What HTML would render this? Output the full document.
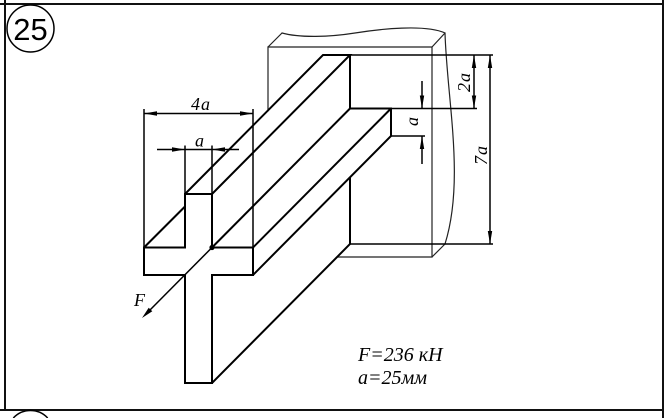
<!DOCTYPE html>
<html>
<head>
<meta charset="utf-8">
<style>
  html, body { margin:0; padding:0; background:#fff; width:671px; height:418px; overflow:hidden; }
  svg { display:block; }
  .t { font-family:"Liberation Serif", "DejaVu Serif", serif; font-style:italic; fill:#000; }
</style>
</head>
<body>
<svg width="671" height="418" viewBox="0 0 671 418" xmlns="http://www.w3.org/2000/svg">
  <rect x="0" y="0" width="671" height="418" fill="#fff"/>

  <!-- frame -->
  <g stroke="#111" stroke-width="2" fill="none">
    <line x1="0" y1="4" x2="664" y2="4"/>
    <line x1="5" y1="0" x2="5" y2="410"/>
    <line x1="663" y1="0" x2="663" y2="418"/>
    <line x1="0" y1="410" x2="664" y2="410"/>
  </g>

  <!-- problem number -->
  <circle cx="30.5" cy="28.5" r="23.5" fill="none" stroke="#000" stroke-width="1.5"/>
  <text x="30.5" y="40" font-family="Liberation Sans, Arial, sans-serif" font-size="31" text-anchor="middle" fill="#000">25</text>
  <path d="M13.3,418 A23.5,23.5 0 0 1 47.7,418" fill="none" stroke="#000" stroke-width="1.5"/>

  <!-- wall -->
  <g stroke="#222" stroke-width="1.2" fill="none" stroke-linecap="round">
    <path d="M268,111 V47 H432 V257 H338"/>
    <line x1="268" y1="47" x2="282" y2="33"/>
    <line x1="432" y1="47" x2="445" y2="33"/>
    <line x1="432" y1="257" x2="445" y2="244"/>
    <path d="M282,33 C300,38 330,37 355,33 S425,24 445,33"/>
    <path d="M445,33 C447,100 465,180 445,244"/>
  </g>

  <!-- beam -->
  <g stroke="#000" stroke-width="2" fill="none" stroke-linejoin="miter">
    <path d="M185,194 H212 V247.5 H253 V275 H212 V383 H185 V275 H144 V247.5 H185 Z"/>
    <path d="M185,194 L323,55 H350 L212,194"/>
    <path d="M350,55 V108.5 H391 V136 L253,275"/>
    <line x1="212" y1="247.5" x2="350" y2="108.5"/>
    <line x1="253" y1="247.5" x2="391" y2="108.5"/>
    <path d="M350,177.5 V244 L212,383"/>
    <line x1="144" y1="247.5" x2="185" y2="206.5"/>
  </g>

  <!-- force F -->
  <g stroke="#000" stroke-width="1.5" fill="none">
    <line x1="212" y1="247.5" x2="148" y2="312"/>
  </g>
  <polygon points="142,318 152.3,311.3 148.7,307.7" fill="#000"/>
  <circle cx="212" cy="247.5" r="2.6" fill="#000"/>
  <text class="t" x="134" y="306" font-size="18">F</text>

  <!-- left dimensions -->
  <g stroke="#000" stroke-width="1.5" fill="none">
    <line x1="144" y1="109" x2="144" y2="247.5"/>
    <line x1="253" y1="109" x2="253" y2="247.5"/>
    <line x1="144" y1="113.5" x2="253" y2="113.5"/>
    <line x1="185" y1="145.5" x2="185" y2="194"/>
    <line x1="212" y1="145.5" x2="212" y2="194"/>
    <line x1="157" y1="149.5" x2="239" y2="149.5"/>
  </g>
  <g fill="#000">
    <polygon points="144,113.5 157,111.3 157,115.7"/>
    <polygon points="253,113.5 240,111.3 240,115.7"/>
    <polygon points="185,149.5 172,147.3 172,151.7"/>
    <polygon points="212,149.5 225,147.3 225,151.7"/>
  </g>
  <text class="t" x="201" y="110" font-size="18" text-anchor="middle" letter-spacing="1">4a</text>
  <text class="t" x="199.5" y="146.5" font-size="18" text-anchor="middle">a</text>

  <!-- right dimensions -->
  <g stroke="#000" stroke-width="1.5" fill="none">
    <line x1="350" y1="55" x2="493" y2="55"/>
    <line x1="391" y1="108.5" x2="477" y2="108.5"/>
    <line x1="391" y1="136" x2="425" y2="136"/>
    <line x1="350" y1="244" x2="493" y2="244"/>
    <line x1="474" y1="55" x2="474" y2="108.5"/>
    <line x1="490" y1="55" x2="490" y2="244"/>
    <line x1="422" y1="81" x2="422" y2="108.5"/>
    <line x1="422" y1="136" x2="422" y2="164"/>
  </g>
  <g fill="#000">
    <polygon points="474,55 471.8,68 476.2,68"/>
    <polygon points="474,108.5 471.8,95.5 476.2,95.5"/>
    <polygon points="490,55 487.8,68 492.2,68"/>
    <polygon points="490,244 487.8,231 492.2,231"/>
    <polygon points="422,108.5 419.8,95.5 424.2,95.5"/>
    <polygon points="422,136 419.8,149 424.2,149"/>
  </g>
  <text class="t" font-size="18" text-anchor="middle" transform="translate(470,82) rotate(-90)" letter-spacing="1">2a</text>
  <text class="t" font-size="18" text-anchor="middle" transform="translate(487,155) rotate(-90)" letter-spacing="1">7a</text>
  <text class="t" font-size="18" text-anchor="middle" transform="translate(418,121.5) rotate(-90)">a</text>

  <!-- data -->
  <text class="t" x="358" y="361" font-size="20">F=236 кН</text>
  <text class="t" x="358" y="384" font-size="20">a=25мм</text>
</svg>
</body>
</html>
